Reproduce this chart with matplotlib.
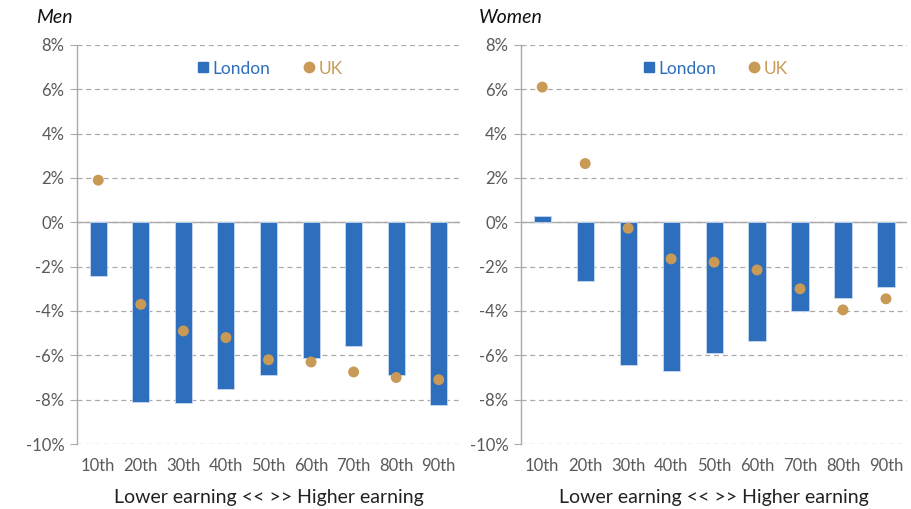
import numpy as np
import matplotlib
matplotlib.use('Agg')
import matplotlib.pyplot as plt
from matplotlib.lines import Line2D
from matplotlib.ticker import FuncFormatter

# Percentile labels and values (percent change)
percentiles = ['10th', '20th', '30th', '40th', '50th', '60th', '70th', '80th', '90th']
men_london = [-2.4, -8.1, -8.15, -7.5, -6.9, -6.1, -5.6, -6.9, -8.25]
men_uk = [1.9, -3.7, -4.9, -5.2, -6.2, -6.3, -6.75, -7.0, -7.1]
women_london = [0.3, -2.65, -6.45, -6.7, -5.9, -5.35, -4.0, -3.4, -2.9]
women_uk = [6.1, 2.65, -0.27, -1.65, -1.8, -2.15, -3.0, -3.95, -3.45]

BLUE = '#2E6FBD'
GOLD = '#C99A55'
GREY = '#595959'

plt.rcParams['font.family'] = ['Lato', 'DejaVu Sans']

fig = plt.figure(figsize=(9.12, 5.09), dpi=100)
ax_men = fig.add_axes([0.0844, 0.1277, 0.42, 0.784])
ax_women = fig.add_axes([0.571, 0.1277, 0.424, 0.784])


def draw_panel(ax, title, london, uk):
    x = np.arange(len(percentiles))
    ax.bar(x, london, width=0.4, color=BLUE, edgecolor='#C9D8EE', linewidth=0.6, zorder=3)
    ax.scatter(x, uk, s=62, color=GOLD, zorder=4, edgecolors='none')

    ax.set_xlim(-0.5, len(percentiles) - 0.5)
    ax.set_ylim(-10, 8)
    ax.set_yticks(range(-10, 9, 2))
    ax.yaxis.set_major_formatter(FuncFormatter(lambda v, p: f'{v:.0f}%'))
    ax.set_xticks(x)
    ax.set_xticklabels(percentiles)

    ax.grid(axis='y', linestyle=(0, (4, 3)), color='#AAAAAA', linewidth=0.9, zorder=0)
    ax.axhline(0, color='#AAAAAA', linewidth=1.0, zorder=2)
    for side in ['top', 'right', 'bottom']:
        ax.spines[side].set_visible(False)
    ax.spines['left'].set_color('#AAAAAA')
    ax.spines['left'].set_linewidth(1.0)
    ax.tick_params(axis='y', length=5, color='#AAAAAA', labelsize=12, labelcolor=GREY, pad=4)
    ax.tick_params(axis='x', length=0, labelsize=12, labelcolor=GREY, pad=10)

    ax.set_xlabel('Lower earning << >> Higher earning', fontsize=14, color='#222222', labelpad=11)
    ax.text(-0.108, 1.068, title, transform=ax.transAxes, fontsize=14,
            style='italic', color='#111111', ha='left', va='center')

    handles = [
        Line2D([], [], marker='s', linestyle='none', color=BLUE, markersize=7),
        Line2D([], [], marker='o', linestyle='none', color=GOLD, markersize=7.5),
    ]
    leg = ax.legend(handles, ['London', 'UK'], loc='upper center', bbox_to_anchor=(0.5, 1.0),
                    ncol=2, frameon=False, fontsize=12.5, handletextpad=0.05,
                    columnspacing=1.7, handlelength=1.0)
    for txt, col in zip(leg.get_texts(), [BLUE, GOLD]):
        txt.set_color(col)


draw_panel(ax_men, 'Men', men_london, men_uk)
draw_panel(ax_women, 'Women', women_london, women_uk)

fig.savefig('out.png', dpi=100)
